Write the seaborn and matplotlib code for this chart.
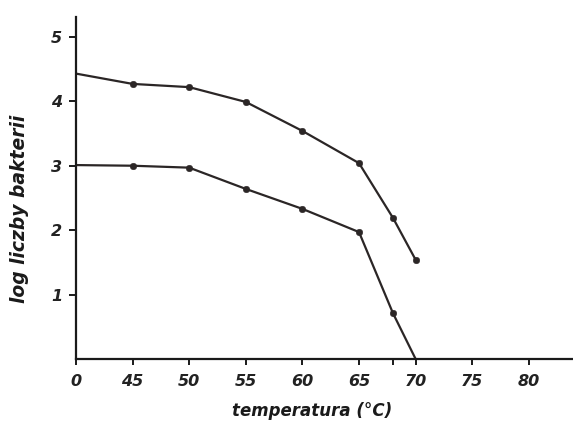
import matplotlib
matplotlib.use("Agg")
import matplotlib.pyplot as plt
import pandas as pd
import seaborn as sns

temps = [0, 45, 50, 55, 60, 65, 68, 70]
upper = [4.43, 4.27, 4.22, 3.99, 3.54, 3.04, 2.19, 1.54]
lower = [3.01, 3.00, 2.97, 2.64, 2.33, 1.97, 0.71, 0.00]
x_ticks = [0, 45, 50, 55, 60, 65, 70, 75, 80]
y_ticks = [1, 2, 3, 4, 5]

# os przerwana: 0 stoi tam gdzie byloby 40
def pos(t):
    return 40 if t == 0 else t

df = pd.DataFrame({"t": [pos(t) for t in temps] * 2,
                   "v": upper + lower,
                   "seria": ["gorna"] * len(temps) + ["dolna"] * len(temps)})
# markery bez punktu poczatkowego i bez punktu na osi
pts = df[(df["t"] > 40) & (df["v"] > 0)]

sns.set_style("white")
plt.rcParams["font.family"] = ["DejaVu Sans"]

fig = plt.figure(figsize=(5.73, 4.26), dpi=100)
ax = fig.add_axes([0.1326, 0.1573, 0.8674, 0.803])

line_col = "#2b2626"
sns.lineplot(data=df, x="t", y="v", units="seria", estimator=None, ax=ax,
             color=line_col, linewidth=1.6, legend=False)
sns.scatterplot(data=pts, x="t", y="v", ax=ax, color=line_col, s=22,
                edgecolor=line_col, legend=False, zorder=3)

ax.set_xlim(40, 83.9)
ax.set_ylim(0, 5.31)
for s in ["top", "right"]:
    ax.spines[s].set_visible(False)
for s in ["left", "bottom"]:
    ax.spines[s].set_color("#1a1a1a")
    ax.spines[s].set_linewidth(1.6)

ax.set_xticks([pos(t) for t in x_ticks])
ax.set_xticklabels([str(t) for t in x_ticks], style="italic",
                   fontsize=11.5, fontweight="bold", color="#222222")
ax.set_xticks([68], minor=True)
ax.xaxis.get_major_ticks()[0].tick1line.set_visible(False)
ax.tick_params(axis="x", which="both", direction="out", length=4, width=1.4,
               color="#1a1a1a", pad=7, bottom=True)
ax.set_yticks(y_ticks)
ax.set_yticklabels([str(v) for v in y_ticks], style="italic",
                   fontsize=11.5, fontweight="bold", color="#222222")
ax.tick_params(axis="y", direction="out", length=5, width=1.4,
               color="#1a1a1a", pad=5, left=True)

ax.set_xlabel("temperatura (°C)", style="italic", fontweight="bold",
              fontsize=12, color="#1a1a1a")
ax.set_ylabel("log liczby bakterii", style="italic", fontweight="bold",
              fontsize=13.5, color="#1a1a1a")
ax.xaxis.set_label_coords(0.475, -0.125)
ax.yaxis.set_label_coords(-0.095, 0.44)

fig.savefig("out.png", dpi=100)
